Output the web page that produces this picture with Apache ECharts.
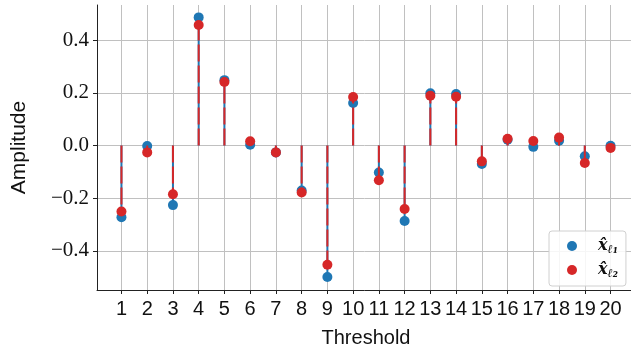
<!DOCTYPE html>
<html>
<head>
<meta charset="utf-8">
<script src="https://cdn.jsdelivr.net/npm/echarts@6/dist/echarts.min.js"></script>
<style>html,body{margin:0;padding:0;background:#fff}#c{width:631px;height:352px}</style>
</head>
<body>
<div id="c"></div>
<script>
const thresholds = [1,2,3,4,5,6,7,8,9,10,11,12,13,14,15,16,17,18,19,20];
const xL1 = [-0.272,-0.002,-0.226,0.486,0.248,0.003,-0.026,-0.171,-0.499,0.161,-0.102,-0.286,0.198,0.195,-0.070,0.022,-0.005,0.018,-0.041,-0.001];
const xL2 = [-0.250,-0.026,-0.185,0.457,0.241,0.016,-0.026,-0.178,-0.452,0.184,-0.132,-0.241,0.189,0.185,-0.060,0.026,0.017,0.030,-0.066,-0.009];
const yTicks = [-0.4,-0.2,0.0,0.2,0.4];

const BLUE = '#1f77b4', RED = '#d62728';
const pts1 = thresholds.map((t,i)=>[t,xL1[i]]);
const pts2 = thresholds.map((t,i)=>[t,xL2[i]]);

function stem(color, dash, w){
  return function(params, api){
    const x = api.value(0), v = api.value(1);
    const p0 = api.coord([x,0]), p1 = api.coord([x,v]);
    return {type:'line', shape:{x1:p0[0],y1:p0[1],x2:p1[0],y2:p1[1]},
      style:{stroke:color, lineWidth:w, lineDash:dash}};
  };
}

const chart = echarts.init(document.getElementById('c'), null, {renderer:'canvas'});
chart.setOption({
  animation:false,
  backgroundColor:'#fff',
  grid:{left:97, top:5, width:538, height:285, containLabel:false, outerBoundsMode:'none'},
  xAxis:{type:'value', min:0.05, max:20.95,
    name:'Threshold', nameLocation:'middle', nameGap:38,
    nameTextStyle:{fontFamily:'Liberation Sans', fontSize:20, color:'#111'},
    axisLine:{show:true, onZero:false, lineStyle:{color:'#222', width:1}},
    axisTick:{show:true, length:4, customValues:thresholds, lineStyle:{color:'#222'}},
    axisLabel:{customValues:thresholds, fontFamily:'Liberation Sans', fontSize:20, color:'#111', margin:9},
    splitLine:{show:true, lineStyle:{color:'#c0c0c0', width:1}}
  },
  yAxis:{type:'value', min:-0.548, max:0.533,
    name:'Amplitude', nameLocation:'middle', nameGap:67, nameRotate:90,
    nameTextStyle:{fontFamily:'Liberation Sans', fontSize:21, color:'#111'},
    axisLine:{show:true, onZero:false, lineStyle:{color:'#222', width:1}},
    axisTick:{show:true, length:4, customValues:yTicks, lineStyle:{color:'#222'}},
    axisLabel:{customValues:yTicks, fontFamily:'Liberation Serif', fontSize:21, color:'#111', margin:8,
      formatter:v=>(v<0?'\u2212':'')+Math.abs(v).toFixed(1)},
    splitLine:{show:true, lineStyle:{color:'#c0c0c0', width:1}}
  },
  legend:{orient:'vertical', left:549, top:231, padding:[7,8,6,18], itemGap:6,
    backgroundColor:'rgba(255,255,255,0.85)', borderColor:'#d0d0d0', borderWidth:1, borderRadius:3,
    itemWidth:10, itemHeight:10, icon:'circle',
    data:['x1','x2'],
    formatter:n=> n==='x1' ? '{x|x\u0302}{s|\u2113\u2081}' : '{x|x\u0302}{s|\u2113\u2082}',
    textStyle:{padding:[0,0,0,16], rich:{
      x:{fontFamily:'DejaVu Serif', fontStyle:'italic', fontWeight:'bold', fontSize:16, color:'#111'},
      s:{fontFamily:'DejaVu Serif', fontStyle:'italic', fontWeight:'bold', fontSize:12, color:'#111', padding:[8,0,0,0]}
    }}
  },
  series:[
    {type:'custom', name:'s1', data:pts1, renderItem:stem(BLUE, null, 2), silent:true, z:2},
    {type:'scatter', name:'x1', data:pts1, symbolSize:10, itemStyle:{color:BLUE, opacity:1}, z:3},
    {type:'custom', name:'s2', data:pts2, renderItem:stem(RED, [17,4], 2), silent:true, z:4},
    {type:'scatter', name:'x2', data:pts2, symbolSize:10, itemStyle:{color:RED, opacity:1}, z:5}
  ]
});
</script>
</body>
</html>
